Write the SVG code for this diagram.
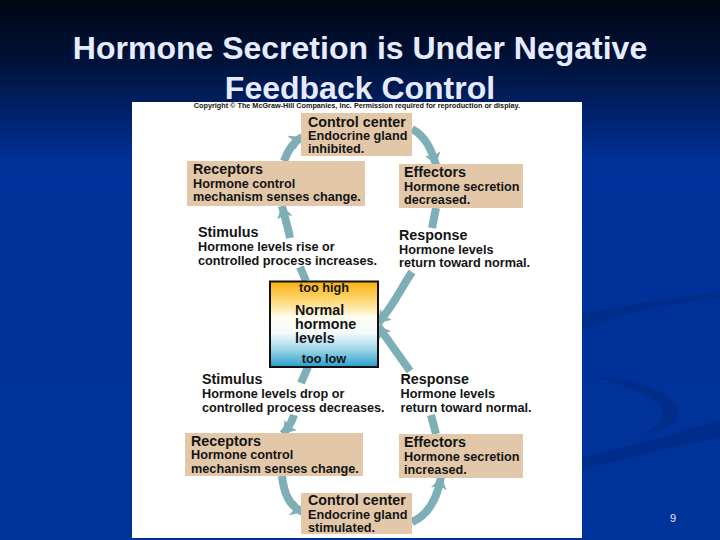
<svg xmlns="http://www.w3.org/2000/svg" width="720" height="540" viewBox="0 0 720 540">
<style>
text{font-family:"Liberation Sans",Arial,sans-serif;fill:#141414}
.h{font-size:14.3px;font-weight:700}
.b{font-size:12.7px;font-weight:700}
.box{fill:#e2c8a8}
.c{fill:none;stroke:#7eaeb6;stroke-width:8}
.a{marker-end:url(#head)}
.sw{fill:#002d8a}
.t{font-size:32px;font-weight:700;fill:#e6ebff}
</style>
<defs>
<linearGradient id="bg" x1="0" y1="0" x2="0" y2="1"><stop offset="0" stop-color="#000512"/><stop offset="0.12" stop-color="#00133c"/><stop offset="0.3" stop-color="#003099"/><stop offset="1" stop-color="#003399"/></linearGradient>
<linearGradient id="lv" x1="0" y1="0" x2="0" y2="1"><stop offset="0" stop-color="#fbb00f"/><stop offset="0.22" stop-color="#fdd873"/><stop offset="0.42" stop-color="#fffdf2"/><stop offset="0.6" stop-color="#f4fbfd"/><stop offset="0.78" stop-color="#a5d9ea"/><stop offset="1" stop-color="#2a9fcb"/></linearGradient>
<marker id="head" markerUnits="userSpaceOnUse" markerWidth="18" markerHeight="18" refX="12" refY="8" orient="auto"><path d="M0 0L12 8L0 16L3 8Z" fill="#7eaeb6"/></marker>
</defs>
<rect width="720" height="540" fill="url(#bg)"/>
<path class="sw" d="M582 314C625 305 680 297 720 292V298C680 302 625 310 582 330Z"/>
<path class="sw" d="M582 458C630 445 680 434 720 420V438C680 444 630 458 582 470Z"/>
<path class="sw" d="M595 376C640 380 680 395 678 414C677 425 660 430 642 434C662 426 668 415 660 405C645 392 620 384 595 376Z"/>
<text class="t" x="360" y="59" text-anchor="middle">Hormone Secretion is Under Negative</text>
<text class="t" x="360" y="99" text-anchor="middle">Feedback Control</text>
<rect id="panel" x="132" y="102" width="450" height="436" fill="#fff"/>
<text x="357" y="108" text-anchor="middle" style="font-size:7.25px;font-weight:700">Copyright © The McGraw-Hill Companies, Inc. Permission required for reproduction or display.</text>
<g id="connectors">
<path class="c a" d="M284 161C288 150 293 142 302 137"/>
<path class="c a" d="M412 129C425 136 431 148 436 165"/>
<path class="c" d="M436 208L432 228"/>
<path class="c a" d="M412 272C400 290 392 308 378 323"/>
<path class="c" d="M306 281L300 267"/>
<path class="c a" d="M290 238C288 228 285 218 282 206"/>
<path class="c a" d="M410 371L378 326"/>
<path class="c" d="M308 367L301 383"/>
<path class="c a" d="M294 415C292 422 288 428 283 434"/>
<path class="c a" d="M282 476C284 495 290 507 303 512"/>
<path class="c a" d="M412 522C428 515 437 500 441 477"/>
<path class="c" d="M431 415L436 434"/>
</g>
<g id="control-top"><rect class="box" x="301" y="113" width="111" height="43"/><text class="h" x="308" y="127">Control center</text><text class="b" x="308" y="140">Endocrine gland</text><text class="b" x="308" y="153">inhibited.</text></g>
<g id="receptors-top"><rect class="box" x="187" y="161" width="178" height="45"/><text class="h" x="193" y="174">Receptors</text><text class="b" x="193" y="187.500">Hormone control</text><text class="b" x="193" y="201">mechanism senses change.</text></g>
<g id="effectors-top"><rect class="box" x="399" y="164" width="124" height="44"/><text class="h" x="404" y="177">Effectors</text><text class="b" x="404" y="191">Hormone secretion</text><text class="b" x="404" y="204">decreased.</text></g>
<g id="stimulus-top"><text class="h" x="198" y="237">Stimulus</text><text class="b" x="198" y="251">Hormone levels rise or</text><text class="b" x="198" y="265">controlled process increases.</text></g>
<g id="response-top"><text class="h" x="399" y="240">Response</text><text class="b" x="399" y="254">Hormone levels</text><text class="b" x="399" y="267">return toward normal.</text></g>
<g id="normal"><rect x="270" y="281.500" width="108" height="85.500" fill="url(#lv)" stroke="#111" stroke-width="2"/><text class="b" x="324" y="291.500" text-anchor="middle">too high</text><text class="h" x="295" y="315">Normal</text><text class="h" x="295" y="329">hormone</text><text class="h" x="295" y="343">levels</text><text class="b" x="324" y="363" text-anchor="middle">too low</text></g>
<g id="stimulus-bottom"><text class="h" x="202" y="384">Stimulus</text><text class="b" x="202" y="398">Hormone levels drop or</text><text class="b" x="202" y="412">controlled process decreases.</text></g>
<g id="response-bottom"><text class="h" x="400.500" y="384">Response</text><text class="b" x="400.500" y="398">Hormone levels</text><text class="b" x="400.500" y="412">return toward normal.</text></g>
<g id="receptors-bottom"><rect class="box" x="185" y="433" width="178" height="43"/><text class="h" x="191" y="446">Receptors</text><text class="b" x="191" y="459">Hormone control</text><text class="b" x="191" y="473">mechanism senses change.</text></g>
<g id="effectors-bottom"><rect class="box" x="399" y="434" width="124" height="44"/><text class="h" x="404" y="447">Effectors</text><text class="b" x="404" y="461">Hormone secretion</text><text class="b" x="404" y="474">increased.</text></g>
<g id="control-bottom"><rect class="box" x="301" y="493" width="111" height="41"/><text class="h" x="308" y="505">Control center</text><text class="b" x="308" y="519">Endocrine gland</text><text class="b" x="308" y="532">stimulated.</text></g>
<text x="673" y="522" text-anchor="middle" style="font-size:11px;fill:#e6ebff">9</text>
</svg>
